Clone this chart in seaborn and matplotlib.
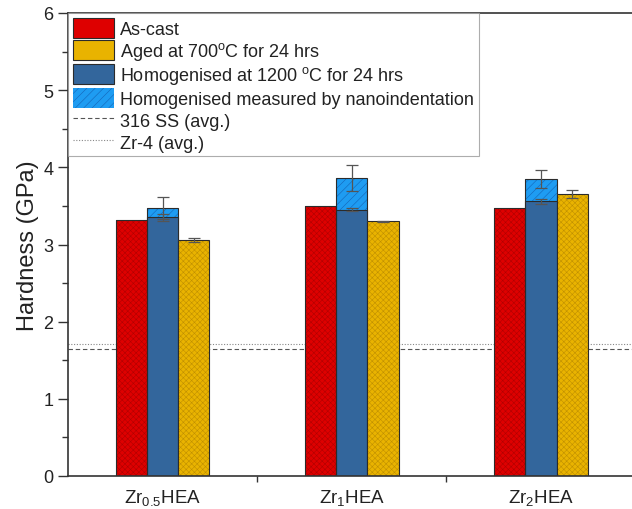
import pandas as pd
import seaborn as sns
import matplotlib.pyplot as plt
from matplotlib.patches import Patch, Rectangle
from matplotlib.lines import Line2D
from matplotlib.ticker import MultipleLocator, FixedLocator

# values (GPa)
alloys = ['Zr$_{0.5}$HEA', 'Zr$_{1}$HEA', 'Zr$_{2}$HEA']
as_cast = [3.32, 3.50, 3.47]
homog = [3.35, 3.45, 3.56]
homog_err = [0.04, 0.02, 0.03]
aged = [3.06, 3.30, 3.65]
aged_err = [0.03, 0.01, 0.05]
nano = [3.47, 3.86, 3.85]
nano_err = [0.14, 0.17, 0.12]
ss316_avg = 1.65
zr4_avg = 1.71

lab_cast = 'As-cast'
lab_aged = 'Aged at 700$^{\\mathregular{o}}$C for 24 hrs'
lab_homog = 'Homogenised at 1200 $^{\\mathregular{o}}$C for 24 hrs'
lab_nano = 'Homogenised measured by nanoindentation'

red, blue, yellow, light = '#DE0000', '#33669C', '#E9B300', '#1E9CF2'
red_h, yellow_h, light_h = '#B00000', '#C09000', '#1466B8'
edge = '#2b2b2b'

sns.set_style('ticks')
plt.rcParams['font.family'] = ['Liberation Sans', 'DejaVu Sans']
plt.rcParams['mathtext.fontset'] = 'custom'
plt.rcParams['mathtext.rm'] = 'Liberation Sans'
plt.rcParams['mathtext.it'] = 'Liberation Sans:italic'
plt.rcParams['hatch.linewidth'] = 0.4

df = pd.DataFrame({
    'alloy': alloys * 3,
    'cond': [lab_cast] * 3 + [lab_homog] * 3 + [lab_aged] * 3,
    'hardness': as_cast + homog + aged,
})
df_nano = pd.DataFrame({'alloy': alloys, 'hardness': nano})

fig = plt.figure(figsize=(6.32, 5.10), dpi=100)
ax = fig.add_axes([68 / 632, 33 / 510, 567.5 / 632, 463 / 510])

ax.axhline(ss316_avg, color='#555555', ls=(0, (4, 2.5)), lw=0.8, zorder=0.5)
ax.axhline(zr4_avg, color='#888888', ls=(0, (1, 1.5)), lw=0.8, zorder=0.5)


def restyle(bars, hatch, hcolor, z):
    # hatch takes the edge colour, so draw the dark outline on top separately
    for p in bars:
        p.set_hatch(hatch)
        p.set_edgecolor(hcolor)
        p.set_linewidth(0)
        ax.add_patch(Rectangle(p.get_xy(), p.get_width(), p.get_height(), fill=False,
                               edgecolor=edge, lw=0.8, zorder=z))


# nanoindentation bar sits behind the homogenised bar
sns.barplot(data=df_nano, x='alloy', y='hardness', order=alloys, width=0.165,
            color=light, saturation=1, errorbar=None, ax=ax, zorder=1)
nano_bars = ax.containers[-1]
restyle(nano_bars, '////', light_h, 1.1)

sns.barplot(data=df, x='alloy', y='hardness', hue='cond', order=alloys,
            hue_order=[lab_cast, lab_homog, lab_aged],
            palette=[red, blue, yellow], width=0.495, saturation=1,
            errorbar=None, edgecolor=edge, linewidth=0.8, legend=False,
            ax=ax, zorder=2)
cast_bars, homog_bars, aged_bars = ax.containers[-3:]
restyle(cast_bars, 'xxxxxx', red_h, 2.1)
restyle(aged_bars, 'xxxxxx', yellow_h, 2.1)

for bars, err in ((nano_bars, nano_err), (homog_bars, homog_err), (aged_bars, aged_err)):
    xs = [p.get_x() + p.get_width() / 2 for p in bars]
    ys = [p.get_height() for p in bars]
    ax.errorbar(xs, ys, yerr=err, fmt='none', ecolor='#555555', elinewidth=0.9,
                capsize=4, capthick=0.9, zorder=3)

ax.set_xlim(-0.5, 2.5)
ax.set_ylim(0, 6)
ax.set_xlabel('')
ax.set_ylabel('Hardness (GPa)', fontsize=17, color='#222222', labelpad=3)
ax.yaxis.set_major_locator(MultipleLocator(1))
ax.yaxis.set_minor_locator(MultipleLocator(0.5))
ax.xaxis.set_minor_locator(FixedLocator([0.5, 1.5]))
ax.tick_params(axis='y', which='major', length=7, width=1, labelsize=13,
               colors='#333333', labelcolor='#222222')
ax.tick_params(axis='y', which='minor', length=4, width=1, colors='#333333')
ax.tick_params(axis='x', which='major', length=0, labelsize=13.5, pad=8,
               labelcolor='#222222')
ax.tick_params(axis='x', which='minor', length=4, width=1, colors='#333333')

for side in ('left', 'bottom', 'top'):
    ax.spines[side].set_color('#333333')
    ax.spines[side].set_linewidth(1.2)
ax.spines['right'].set_visible(False)

handles = [
    Patch(facecolor=red, edgecolor=edge, lw=0.8),
    Patch(facecolor=yellow, edgecolor=edge, lw=0.8),
    Patch(facecolor=blue, edgecolor=edge, lw=0.8),
    Patch(facecolor=light, edgecolor=light_h, hatch='////', lw=0),
    Line2D([], [], color='#555555', ls=(0, (4, 2.5)), lw=0.8),
    Line2D([], [], color='#888888', ls=(0, (1, 1.5)), lw=0.8),
]
labels = [lab_cast, lab_aged, lab_homog, lab_nano, '316 SS (avg.)', 'Zr-4 (avg.)']
leg = ax.legend(handles, labels, loc='upper left', fontsize=13, frameon=True,
                fancybox=False, borderaxespad=0, borderpad=0.25,
                handlelength=2.3, handleheight=1.35, handletextpad=0.35,
                labelspacing=0.1, labelcolor='#222222')
leg.get_frame().set_edgecolor('#999999')
leg.get_frame().set_linewidth(0.8)

fig.savefig('out.png', dpi=100)
